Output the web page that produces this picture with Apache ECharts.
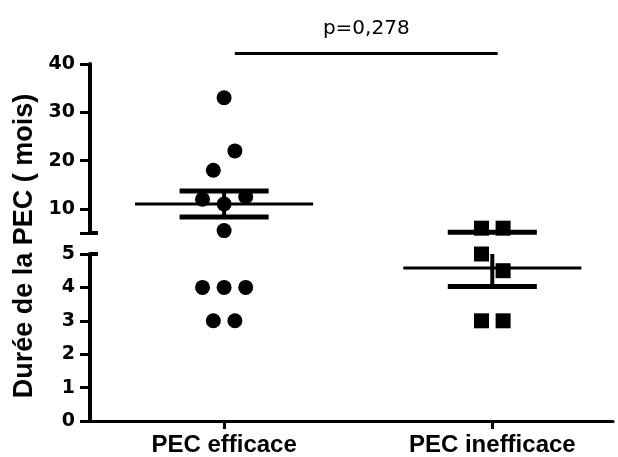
<!DOCTYPE html>
<html>
<head>
<meta charset="utf-8">
<script src="https://cdn.jsdelivr.net/npm/echarts@6/dist/echarts.min.js"></script>
<style>
  html, body { margin: 0; padding: 0; background: #fff; }
  #chart { width: 618px; height: 457px; }
</style>
</head>
<body>
<div id="chart"></div>
<script>
// data (row order = left-to-right order in each scatter row)
const categories = ['PEC efficace', 'PEC inefficace'];
const efficaceValues = [33, 18, 22, 12, 11, 12.5, 5.5, 4, 4, 4, 3, 3];
const inefficaceValues = [6, 6, 5, 4.5, 3, 3];
const topTicks = [10, 20, 30, 40];
const breakValue = 5;
const yTitle = 'Durée de la PEC ( mois)';
const pValueText = 'p=0,278';

const chart = echarts.init(document.getElementById('chart'));

const X_MIN = -0.5, X_MAX = 1.45;
const MEAN_HALF = 0.332, CAP_HALF = 0.166;
const ROW_STEP_PX = 21.6, ROW_GAP_PX = 21, DOT = 15;

function meanSem(arr) {
  const n = arr.length;
  const m = arr.reduce((a, b) => a + b, 0) / n;
  const sd = Math.sqrt(arr.reduce((a, b) => a + (b - m) * (b - m), 0) / (n - 1));
  const sem = sd / Math.sqrt(n);
  return [m, m + sem, m - sem];
}

const tickFont = { color: '#000', fontFamily: 'DejaVu Sans', fontWeight: 'bold', fontSize: 19 };

// axes first, so the layout can use the library's own scales
chart.setOption({
  backgroundColor: '#fff',
  animation: false,
  grid: [
    { left: 90, right: 5, top: 64, height: 169 },
    { left: 90, right: 5, top: 254, height: 167 }
  ],
  xAxis: [
    { gridIndex: 0, type: 'value', min: X_MIN, max: X_MAX, show: false },
    {
      gridIndex: 1, type: 'value', min: X_MIN, max: X_MAX,
      splitLine: { show: false },
      axisLine: { show: true, onZero: false, lineStyle: { color: '#000', width: 3 } },
      axisTick: { show: true, customValues: [0, 1], length: 8, lineStyle: { color: '#000', width: 3 } },
      axisLabel: {
        customValues: [0, 1], margin: 12,
        formatter: v => categories[Math.round(v)],
        color: '#000', fontFamily: 'Liberation Sans', fontWeight: 'bold', fontSize: 24
      }
    }
  ],
  yAxis: [
    {
      gridIndex: 0, type: 'value', position: 'left', min: breakValue, max: 40,
      splitLine: { show: false },
      axisLine: { show: true, onZero: false, lineStyle: { color: '#000', width: 4 } },
      axisTick: { show: true, customValues: [breakValue].concat(topTicks), length: 10, lineStyle: { color: '#000', width: 3 } },
      axisLabel: Object.assign({ customValues: topTicks, margin: 15 }, tickFont)
    },
    {
      gridIndex: 1, type: 'value', position: 'left', min: 0, max: breakValue, interval: 1,
      splitLine: { show: false },
      axisLine: { show: true, onZero: false, lineStyle: { color: '#000', width: 4 } },
      axisTick: { show: true, length: 10, lineStyle: { color: '#000', width: 3 } },
      axisLabel: Object.assign({ margin: 15 }, tickFont)
    },
    // inner half of the caps at the axis break
    {
      gridIndex: 0, type: 'value', position: 'left', min: breakValue, max: 40,
      splitLine: { show: false }, axisLine: { show: false, onZero: false }, axisLabel: { show: false },
      axisTick: { show: true, inside: true, customValues: [breakValue], length: 8, lineStyle: { color: '#000', width: 4 } }
    },
    {
      gridIndex: 1, type: 'value', position: 'left', min: 0, max: breakValue,
      splitLine: { show: false }, axisLine: { show: false, onZero: false }, axisLabel: { show: false },
      axisTick: { show: true, inside: true, customValues: [breakValue], length: 8, lineStyle: { color: '#000', width: 4 } }
    }
  ]
});

function segOf(v) { return v > breakValue ? 0 : 1; }
function toPx(x, v) {
  const s = segOf(v);
  return chart.convertToPixel({ xAxisIndex: s, yAxisIndex: s }, [x, v]);
}
const pxPerX = toPx(1, 10)[0] - toPx(0, 10)[0];

// scatter rows: points close in pixel height share a row, spread in data order
function layout(values, cat) {
  const rows = [];
  values.forEach(v => {
    const py = toPx(cat, v)[1];
    const row = rows[rows.length - 1];
    if (row && Math.abs(py - row.py) < ROW_GAP_PX) row.items.push(v);
    else rows.push({ py: py, items: [v] });
  });
  const pts = [[], []];
  rows.forEach(r => {
    const n = r.items.length;
    r.items.forEach((v, i) => {
      const x = cat + (i - (n - 1) / 2) * ROW_STEP_PX / pxPerX;
      pts[segOf(v)].push([x, v]);
    });
  });
  return pts;
}

const effPts = layout(efficaceValues, 0);
const ineffPts = layout(inefficaceValues, 1);
const stats = [meanSem(efficaceValues), meanSem(inefficaceValues)];
const statData = stats.map((s, i) => [i, s[0], s[1], s[2]]);

function renderStats(params, api) {
  const cs = params.coordSys;
  const top = cs.y, bot = cs.y + cs.height;
  const cat = api.value(0);
  const within = p => p >= top - 0.5 && p <= bot + 0.5;
  const clamp = p => Math.max(top, Math.min(bot, p));
  const line = (x1, v, x2, w) => {
    const a = api.coord([x1, v]), b = api.coord([x2, v]);
    if (!within(a[1])) return null;
    return { type: 'line', shape: { x1: a[0], y1: a[1], x2: b[0], y2: b[1] }, style: { stroke: '#000', lineWidth: w } };
  };
  const kids = [];
  const mean = line(cat - MEAN_HALF, api.value(1), cat + MEAN_HALF, 3);
  const up = line(cat - CAP_HALF, api.value(2), cat + CAP_HALF, 5);
  const lo = line(cat - CAP_HALF, api.value(3), cat + CAP_HALF, 5);
  [mean, up, lo].forEach(k => { if (k) kids.push(k); });
  const yu = clamp(api.coord([cat, api.value(2)])[1]);
  const yl = clamp(api.coord([cat, api.value(3)])[1]);
  const xc = api.coord([cat, api.value(1)])[0];
  if (yl - yu > 1) {
    kids.push({ type: 'line', shape: { x1: xc, y1: yu, x2: xc, y2: yl }, style: { stroke: '#000', lineWidth: 4 } });
  }
  return { type: 'group', children: kids };
}

const scatterBase = { type: 'scatter', symbolSize: DOT, clip: false, itemStyle: { color: '#000', opacity: 1 }, z: 3 };

const barL = toPx(0.04, 42.2), barR = toPx(1.02, 42.2);

chart.setOption({
  series: [
    Object.assign({ name: categories[0], symbol: 'circle', xAxisIndex: 0, yAxisIndex: 0, data: effPts[0] }, scatterBase),
    Object.assign({ name: categories[0], symbol: 'circle', xAxisIndex: 1, yAxisIndex: 1, data: effPts[1] }, scatterBase),
    Object.assign({ name: categories[1], symbol: 'rect', xAxisIndex: 0, yAxisIndex: 0, data: ineffPts[0] }, scatterBase),
    Object.assign({ name: categories[1], symbol: 'rect', xAxisIndex: 1, yAxisIndex: 1, data: ineffPts[1] }, scatterBase),
    { type: 'custom', xAxisIndex: 0, yAxisIndex: 0, renderItem: renderStats, data: statData, clip: false, z: 4 },
    { type: 'custom', xAxisIndex: 1, yAxisIndex: 1, renderItem: renderStats, data: statData, clip: false, z: 4 }
  ],
  graphic: [
    {
      type: 'text', x: 25, y: 246, rotation: Math.PI / 2,
      style: { text: yTitle, fill: '#000', font: 'bold 27px "Liberation Sans"', align: 'center', verticalAlign: 'middle' }
    },
    {
      type: 'line', shape: { x1: barL[0], y1: barL[1], x2: barR[0], y2: barR[1] },
      style: { stroke: '#000', lineWidth: 3 }
    },
    {
      type: 'text', x: (barL[0] + barR[0]) / 2, y: barL[1] - 25,
      style: { text: pValueText, fill: '#000', font: '20px "DejaVu Sans"', align: 'center', verticalAlign: 'middle' }
    }
  ]
});
</script>
</body>
</html>
